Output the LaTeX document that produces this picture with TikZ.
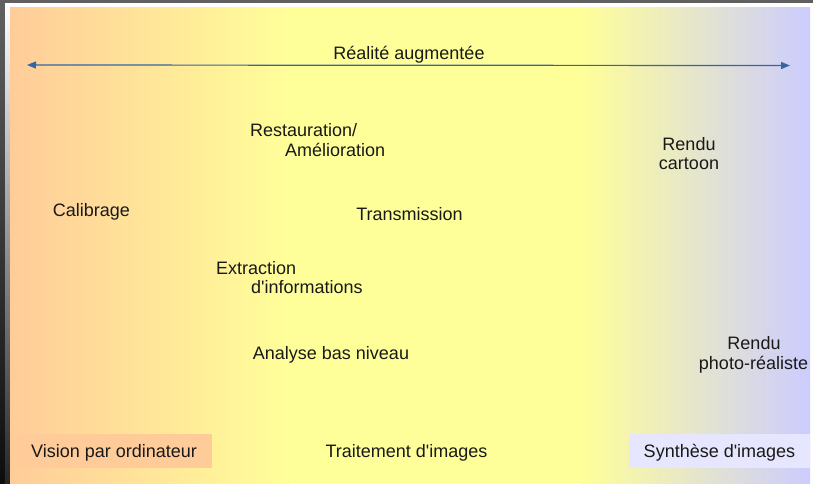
\documentclass[tikz,border=0pt]{standalone}
\usepackage{fontspec}
\setmainfont{Liberation Sans}
\usetikzlibrary{arrows.meta}
\definecolor{orangeclair}{RGB}{255,204,153}
\definecolor{jaunepale}{RGB}{255,255,153}
\definecolor{lavande}{RGB}{204,204,255}
\definecolor{lavandepale}{RGB}{230,230,255}
\definecolor{bleuaxe}{RGB}{52,101,164}
\definecolor{cadre}{RGB}{96,96,96}
\tikzset{fleche/.tip={Triangle[length=9pt,width=7pt]}}
\begin{document}
\begin{tikzpicture}[x=1pt,y=-1pt]
\tikzstyle{every node}+=[inner sep=0pt,anchor=base,text=black!90,font=\fontsize{18}{20}\selectfont]
\tikzstyle{domaine}=[minimum height=34pt,text height=12.9pt,text depth=0pt]
\useasboundingbox (0,0) rectangle (813,483);
\fill [cadre] (0,0) rectangle (813,3);
\shade [top color=cadre,bottom color=black!95] (0,3) rectangle (5,483);
\shade [top color=white,bottom color=black!85] (5,3) rectangle (10,483);
\fill [white] (10,3) rectangle (813,7);
\fill [white] (810,7) rectangle (813,483);
\shade [left color=orangeclair,right color=jaunepale] (10,7) rectangle (290,483);
\fill [jaunepale] (290,7) rectangle (580,483);
\shade [left color=jaunepale,right color=lavande] (580,7) rectangle (810,483);
\coordinate (gauche) at (27,65);
\coordinate (droite) at (790,65.5);
\draw [bleuaxe,line width=1.2pt,fleche-fleche] (gauche) -- (droite);
\node (ra) at (409,59.5) {Réalité augmentée};
\node [anchor=base west] (restau) at (250,136.7) {Restauration/};
\node [anchor=base west] (amelio) at (285,156.7) {Amélioration};
\node (rendu1) at (689,150) {Rendu};
\node (cartoon) at (689,169.5) {cartoon};
\node (calib) at (91.5,216) {Calibrage};
\node (transm) at (409.5,220) {Transmission};
\node [anchor=base west] (extract) at (216,274) {Extraction};
\node [anchor=base west] (infos) at (251,293.3) {d\textquotesingle informations};
\node (analyse) at (331,359.3) {Analyse bas niveau};
\node (rendu2) at (754,349.5) {Rendu};
\node (photo) at (753.5,369.5) {photo-réaliste};
\node [domaine,fill=orangeclair,minimum width=196pt] (vision) at (114,457.3) {Vision par ordinateur};
\node (traitement) at (406.5,457.3) {Traitement d\textquotesingle images};
\node [domaine,fill=lavandepale,minimum width=181pt] (synthese) at (719.5,457.3) {Synthèse d\textquotesingle images};
\end{tikzpicture}
\end{document}
